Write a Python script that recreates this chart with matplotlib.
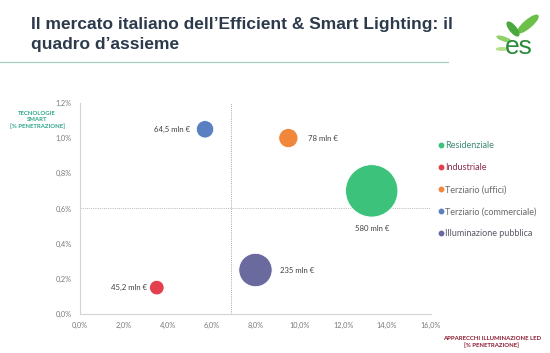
import matplotlib
matplotlib.use("Agg")
import matplotlib.pyplot as plt
from matplotlib.lines import Line2D
from matplotlib.patches import Ellipse
from matplotlib.ticker import FuncFormatter

# data
segments = ["Residenziale", "Industriale", "Terziario (uffici)",
            "Terziario (commerciale)", "Illuminazione pubblica"]
led_pen = [13.3, 3.5, 9.5, 5.7, 8.0]          # % x
smart_pen = [0.70, 0.15, 1.00, 1.05, 0.25]    # % y
market = [580, 45.2, 78, 64.5, 235]           # mln €
labels = ["580 mln €", "45,2 mln €", "78 mln €", "64,5 mln €", "235 mln €"]
colors = ["#3cc27a", "#e2404e", "#f0873a", "#5b80c2", "#6a6a9e"]
legend_text_colors = ["#3d8a76", "#8a2d4c", "#6a6a6a", "#6a6a6a", "#5a5a6a"]
x_split = 6.9
y_split = 0.6

plt.rcParams["font.family"] = ["Lato", "DejaVu Sans"]

fig = plt.figure(figsize=(5.5, 3.53), dpi=100)
ax = fig.add_axes([0.1455, 0.1105, 0.638, 0.598])

ax.scatter(led_pen, smart_pen, s=[2.45 * m for m in market], c=colors,
           edgecolors="white", linewidths=0.6, zorder=3)

ax.axvline(x_split, color="#a8a8a8", lw=0.7, ls=(0, (1, 1.2)), zorder=1)
ax.axhline(y_split, color="#b8b8b8", lw=0.7, ls=(0, (1, 1.2)), zorder=1)

# bubble labels
offsets = [(0, -0.215, "center", "center"),
           (-0.45, 0.0, "right", "center"),
           (0.9, 0.0, "left", "center"),
           (-0.7, 0.0, "right", "center"),
           (1.1, 0.0, "left", "center")]
for x, y, lab, (dx, dy, ha, va) in zip(led_pen, smart_pen, labels, offsets):
    ax.text(x + dx, y + dy, lab, ha=ha, va=va, fontsize=5.6, color="#404040")

ax.set_xlim(0, 16)
ax.set_ylim(0, 1.2)
ax.set_xticks(range(0, 17, 2))
ax.set_yticks([0, 0.2, 0.4, 0.6, 0.8, 1.0, 1.2])
ax.xaxis.set_major_formatter(FuncFormatter(lambda v, p: f"{v:.1f}%".replace(".", ",")))
ax.yaxis.set_major_formatter(FuncFormatter(lambda v, p: f"{v:.1f}%".replace(".", ",")))
ax.tick_params(length=0, labelsize=5.3, colors="#7a7a7a", pad=6)
for side in ["top", "right"]:
    ax.spines[side].set_visible(False)
for side in ["left", "bottom"]:
    ax.spines[side].set_color("#d4d4d4")
    ax.spines[side].set_linewidth(0.8)

# legend
handles = [Line2D([], [], ls="", marker="o", ms=3.2, mfc=c, mec=c) for c in colors]
leg = fig.legend(handles, segments, loc="upper left",
                 bbox_to_anchor=(433 / 550, 1 - 137.5 / 353), frameon=False,
                 fontsize=6.5, labelspacing=1.44, handletextpad=0.05,
                 handlelength=0.9, borderaxespad=0)
for t, c in zip(leg.get_texts(), legend_text_colors):
    t.set_color(c)

# axis titles
fig.text(37 / 550, 1 - 120 / 353, "TECNOLOGIE\nSMART\n[% PENETRAZIONE]",
         ha="center", va="center", fontsize=4.3, color="#2aa58a",
         fontweight="bold", linespacing=1.3)
fig.text(492 / 550, 1 - 342 / 353, "APPARECCHI ILLUMINAZIONE LED\n[% PENETRAZIONE]",
         ha="center", va="center", fontsize=4.3, color="#8b1a2e",
         fontweight="bold", linespacing=1.1)

# title and rule
fig.text(31 / 550, 1 - 17 / 353,
         "Il mercato italiano dell\u2019Efficient & Smart Lighting: il\nquadro d\u2019assieme",
         ha="left", va="top", fontsize=12.5, fontweight="bold", color="#2c3a4c",
         family="Liberation Sans", linespacing=1.45)
fig.add_artist(Line2D([0, 448 / 550], [1 - 62 / 353] * 2, color="#a9cbc4", lw=0.9))

# logo
fig.text(519 / 550, 1 - 47 / 353, "es", ha="center", va="center", fontsize=19,
         color="#2a8a3a", family="Liberation Sans")
for (cx, cy, w, h, ang, col) in [(528, 24, 9, 21, -35, "#6cc04a"),
                                 (513, 29, 7, 15, 25, "#4aa83c"),
                                 (504, 39, 5, 10, 60, "#8fd06a"),
                                 (502, 49, 4, 7, 90, "#b6e08e")]:
    fig.add_artist(Ellipse((cx / 550, 1 - cy / 353), w / 550, h / 353,
                           angle=ang, color=col, transform=fig.transFigure))

fig.savefig("out.png", dpi=100)
